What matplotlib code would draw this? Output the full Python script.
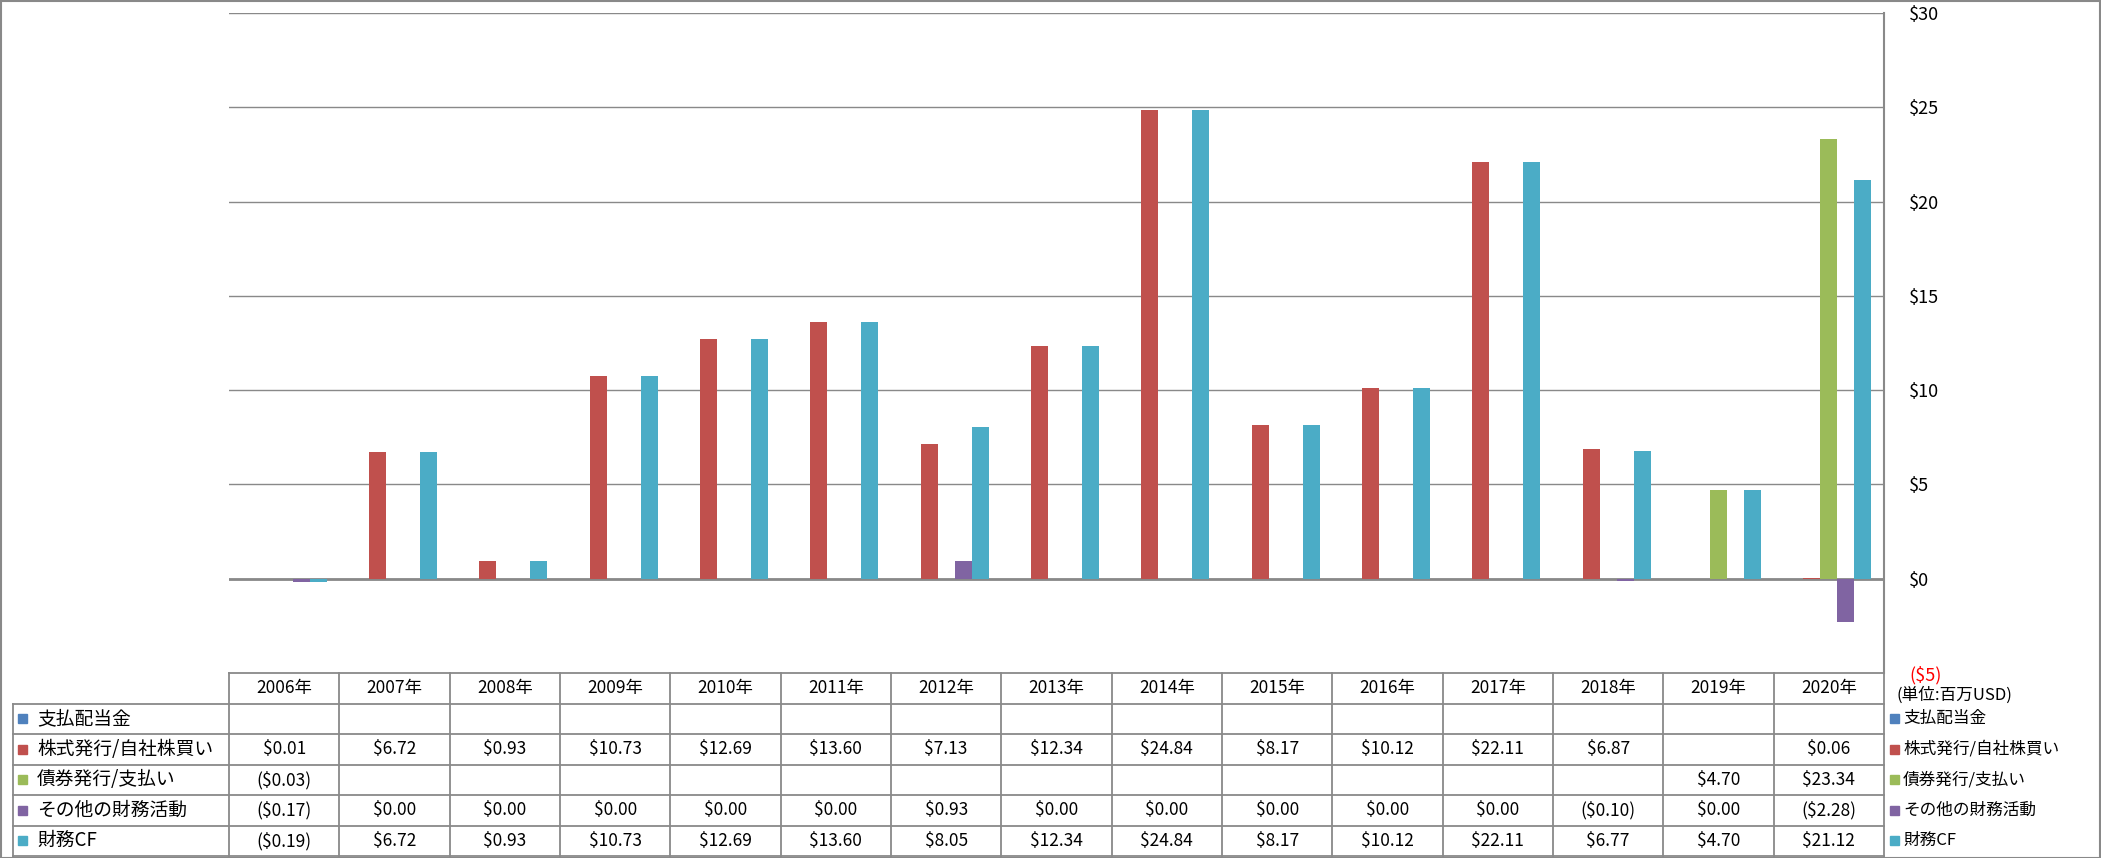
import numpy as np
import matplotlib.pyplot as plt
from matplotlib.patches import Rectangle

plt.rcParams['font.family'] = ['Noto Sans CJK JP', 'DejaVu Sans']

# --- データ (単位: 百万USD) ---
years = ['2006年', '2007年', '2008年', '2009年', '2010年', '2011年', '2012年', '2013年',
         '2014年', '2015年', '2016年', '2017年', '2018年', '2019年', '2020年']
nan = np.nan
dividends = [nan] * 15
stock = [0.01, 6.72, 0.93, 10.73, 12.69, 13.60, 7.13, 12.34, 24.84, 8.17, 10.12, 22.11, 6.87, nan, 0.06]
debt = [-0.03, nan, nan, nan, nan, nan, nan, nan, nan, nan, nan, nan, nan, 4.70, 23.34]
other = [-0.17, 0.00, 0.00, 0.00, 0.00, 0.00, 0.93, 0.00, 0.00, 0.00, 0.00, 0.00, -0.10, 0.00, -2.28]
fin_cf = [-0.19, 6.72, 0.93, 10.73, 12.69, 13.60, 8.05, 12.34, 24.84, 8.17, 10.12, 22.11, 6.77, 4.70, 21.12]

names = ['支払配当金', '株式発行/自社株買い', '債券発行/支払い', 'その他の財務活動', '財務CF']
series = [dividends, stock, debt, other, fin_cf]
colors = ['#4F81BD', '#C0504D', '#9BBB59', '#8064A2', '#4BACC6']
yticks = [-5, 0, 5, 10, 15, 20, 25, 30]

W, H = 2101, 858
grid_c = '#898989'


def fmt(v):
    if np.isnan(v):
        return ''
    if v < 0:
        return f'(${-v:.2f})'
    return f'${v:.2f}'


fig = plt.figure(figsize=(W / 100, H / 100), dpi=100)

# --- 棒グラフ ---
px_l, px_r, px_t, px_b = 229, 1884, 13, 673
ax = fig.add_axes([px_l / W, 1 - px_b / H, (px_r - px_l) / W, (px_b - px_t) / H])
n = len(years)
x = np.arange(n)
bw = 1 / 6.5
for k, (vals, c) in enumerate(zip(series, colors)):
    v = np.array(vals, dtype=float)
    m = ~np.isnan(v)
    ax.bar(x[m] + (k - 2) * bw, v[m], width=bw, color=c, zorder=3)

ax.set_xlim(-0.5, n - 0.5)
ax.set_ylim(-5, 30)
ax.set_yticks(yticks)
ax.yaxis.tick_right()
ax.set_yticklabels([f'(${-t})' if t < 0 else f'${t}' for t in yticks], fontsize=13)
ax.get_yticklabels()[0].set_color('red')
ax.tick_params(axis='y', length=0, pad=18)
ax.set_xticks([])
for t in yticks[1:]:
    ax.axhline(t, color=grid_c, lw=1, zorder=1)
ax.axhline(0, color=grid_c, lw=2, zorder=2)
for s in ['top', 'left', 'bottom']:
    ax.spines[s].set_visible(False)
ax.spines['right'].set_color(grid_c)
ax.spines['right'].set_linewidth(1.5)

# --- データテーブル ---
tab = fig.add_axes([px_l / W, 0, (px_r - px_l) / W, 1])
tab.set_xlim(-0.5, n - 0.5)
tab.set_ylim(H, 0)
tab.axis('off')
rows_y = np.linspace(673, 856, 7)
col_w = (px_r - px_l) / n
lab_x0 = -0.5 - (px_l - 13) / col_w
lw = 1.3
# 横線
tab.plot([-0.5, n - 0.5], [rows_y[0]] * 2, color=grid_c, lw=lw, clip_on=False)
for yy in rows_y[1:]:
    tab.plot([lab_x0, n - 0.5], [yy, yy], color=grid_c, lw=lw, clip_on=False)
# 縦線
for i in range(n + 1):
    tab.plot([i - 0.5] * 2, [rows_y[0], rows_y[-1]], color=grid_c, lw=lw, clip_on=False)
tab.plot([lab_x0] * 2, [rows_y[1], rows_y[-1]], color=grid_c, lw=lw, clip_on=False)

for i, yr in enumerate(years):
    tab.text(i, (rows_y[0] + rows_y[1]) / 2, yr, ha='center', va='center', fontsize=12.5)

mk = 9 / col_w
for r, (name, vals, c) in enumerate(zip(names, series, colors)):
    yc = (rows_y[r + 1] + rows_y[r + 2]) / 2
    tab.add_patch(Rectangle((lab_x0 + 5 / col_w, yc - 4.5), mk, 9, color=c, clip_on=False))
    tab.text(lab_x0 + 24 / col_w, yc, name, ha='left', va='center', fontsize=13.5)
    for i, v in enumerate(vals):
        tab.text(i, yc, fmt(v), ha='center', va='center', fontsize=12.5)
    # 右側の凡例
    tab.add_patch(Rectangle((n - 0.5 + 6 / col_w, yc - 4.5), mk, 9, color=c, clip_on=False))
    tab.text(n - 0.5 + 19 / col_w, yc, name, ha='left', va='center', fontsize=12)

tab.text(n - 0.5 + 12 / col_w, 695, '(単位:百万USD)', ha='left', va='center', fontsize=12)

# 外枠
fig.add_artist(Rectangle((0.5 / W, 0.5 / H), (W - 1.5) / W, (H - 1.5) / H, transform=fig.transFigure,
                         fill=False, edgecolor=grid_c, lw=1.5))

fig.savefig('out.png', dpi=100)
